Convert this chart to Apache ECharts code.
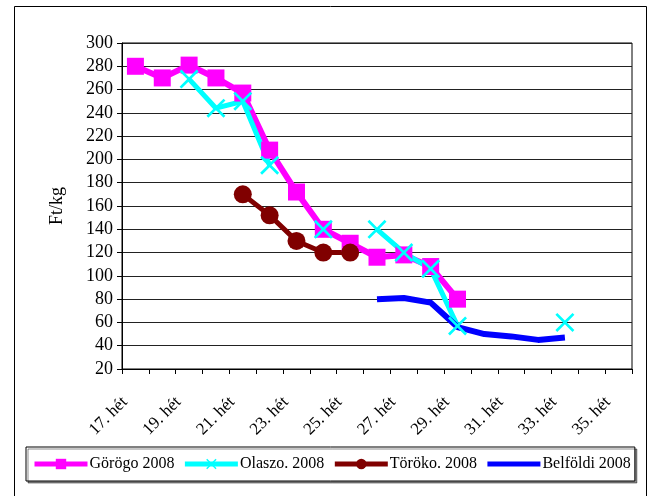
<!DOCTYPE html>
<html>
<head>
<meta charset="utf-8">
<script src="https://cdn.jsdelivr.net/npm/echarts@6/dist/echarts.min.js"></script>
<style>
  html, body { margin: 0; padding: 0; background: #fff; }
  #chart { width: 653px; height: 496px; }
</style>
</head>
<body>
<div id="chart"></div>
<script>
// weeks 17..35
var weeks = ['17. hét', '18. hét', '19. hét', '20. hét', '21. hét', '22. hét', '23. hét',
  '24. hét', '25. hét', '26. hét', '27. hét', '28. hét', '29. hét', '30. hét',
  '31. hét', '32. hét', '33. hét', '34. hét', '35. hét'];

var gorogo = [280, 270, 281, 270, 257, 208, 172, 140, 128, 116, 118, 108, 80,
  null, null, null, null, null, null];
var olaszo = [null, null, 269, 244, 250, 195, null, 140, null, 140, 120, 106, 57,
  null, null, null, 60, null, null];
var toroko = [null, null, null, null, 170, 152, 130, 120, 120,
  null, null, null, null, null, null, null, null, null, null];
var belfoldi = [null, null, null, null, null, null, null, null, null,
  80, 81, 77, 56, 50, 48, 45, 47, null, null];

var serif = "'Liberation Serif', 'Times New Roman', serif";
var xMark = 'path://M0,1L1,0L5,4L9,0L10,1L6,5L10,9L9,10L5,6L1,10L0,9L4,5Z';

var chart = echarts.init(document.getElementById('chart'));
chart.setOption({
  animation: false,
  backgroundColor: '#fff',
  textStyle: { fontFamily: serif, color: '#000' },
  graphic: [{
    type: 'rect',
    shape: { x: 14.5, y: 6.5, width: 632, height: 500 },
    style: { fill: 'none', stroke: '#000', lineWidth: 1 },
    silent: true
  }],
  grid: {
    left: 122, right: 21, top: 43, bottom: 127,
    show: true, borderColor: '#000', borderWidth: 1
  },
  legend: {
    left: 26, top: 447,
    padding: [9, 4, 9, 6],
    itemGap: 8,
    itemWidth: 53, itemHeight: 13,
    borderColor: '#000', borderWidth: 1,
    backgroundColor: '#fff',
    shadowColor: 'rgba(0,0,0,0.45)', shadowOffsetX: 2, shadowOffsetY: 2, shadowBlur: 0,
    lineStyle: { width: 5 },
    textStyle: { fontFamily: serif, fontSize: 16, color: '#000', padding: [0, 0, 0, -3] },
    data: ['Görögo 2008', 'Olaszo. 2008', 'Töröko. 2008',
      { name: 'Belföldi 2008', itemStyle: { opacity: 0 } }]
  },
  xAxis: {
    type: 'category',
    data: weeks,
    boundaryGap: true,
    axisLine: { lineStyle: { color: '#000', width: 1 } },
    axisTick: { show: true, interval: 0, length: 5, lineStyle: { color: '#000' } },
    axisLabel: {
      interval: 1, rotate: 45, margin: 20, padding: [0, 15, 0, 0],
      fontFamily: serif, fontSize: 17, color: '#000'
    },
    splitLine: { show: false }
  },
  yAxis: {
    type: 'value',
    min: 20, max: 300, interval: 20,
    name: 'Ft/kg',
    nameLocation: 'middle',
    nameGap: 56,
    nameTextStyle: { fontFamily: serif, fontSize: 18, color: '#000' },
    axisLine: { show: true, lineStyle: { color: '#000', width: 1 } },
    axisTick: { show: true, length: 5, lineStyle: { color: '#000' } },
    axisLabel: { fontFamily: serif, fontSize: 18, color: '#000', margin: 9 },
    splitLine: { show: true, lineStyle: { color: '#222', width: 1 } }
  },
  series: [
    {
      name: 'Görögo 2008', type: 'line', data: gorogo,
      symbol: 'rect', symbolSize: 17, showAllSymbol: true,
      lineStyle: { color: '#ff00ff', width: 6 },
      itemStyle: { color: '#ff00ff' }
    },
    {
      name: 'Olaszo. 2008', type: 'line', data: olaszo,
      symbol: xMark, symbolSize: 19, showAllSymbol: true, connectNulls: false,
      lineStyle: { color: '#00ffff', width: 5 },
      itemStyle: { color: '#00ffff' }
    },
    {
      name: 'Töröko. 2008', type: 'line', data: toroko,
      symbol: 'circle', symbolSize: 18, showAllSymbol: true,
      lineStyle: { color: '#800000', width: 5 },
      itemStyle: { color: '#800000' }
    },
    {
      name: 'Belföldi 2008', type: 'line', data: belfoldi,
      symbol: 'none',
      lineStyle: { color: '#0000ff', width: 6 },
      itemStyle: { color: '#0000ff' }
    }
  ]
});
</script>
</body>
</html>
